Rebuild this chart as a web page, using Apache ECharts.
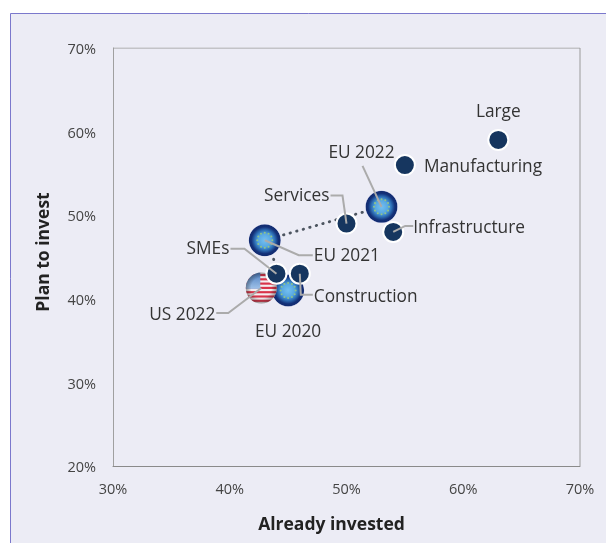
<!DOCTYPE html>
<html><head><meta charset="utf-8">
<style>html,body{margin:0;padding:0;background:#fff}#c{width:606px;height:543px}</style>
<script src="https://cdn.jsdelivr.net/npm/echarts@6/dist/echarts.min.js"></script>
</head><body><div id="c"></div>
<script>
const segmentNames = ['Large','Manufacturing','Infrastructure','Services','SMEs','Construction'];
const segmentX = [63,55,54,50,44,46];
const segmentY = [59,56,48,49,43,43];
const euNames = ['EU 2020','EU 2021','EU 2022'];
const euX = [45,43,53];
const euY = [41,47,51];
const usNames = ['US 2022'];
const usX = [42.7];
const usY = [41.3];
const xTicks = [30,40,50,60,70];
const yTicks = [20,30,40,50,60,70];

// pixel styling of labels: anchor offset from the point, and leader path relative to the point
const labelStyle = {
  'Large':{dx:0,dy:-28,align:'center'},
  'Manufacturing':{dx:19,dy:2,align:'left'},
  'Infrastructure':{dx:20,dy:-4,align:'left',path:[[0,0],[12,-6],[20,-6]]},
  'Services':{dx:-17,dy:-27,align:'right',path:[[0,0],[-4,-28],[-16,-28]]},
  'SMEs':{dx:-47,dy:-25,align:'right',path:[[0,0],[-32,-25],[-46,-25]]},
  'Construction':{dx:14,dy:23,align:'left',path:[[0,0],[1,21],[13,21]]},
  'EU 2020':{dx:0,dy:42,align:'center'},
  'EU 2021':{dx:49,dy:16,align:'left',path:[[0,0],[34,15],[48,15]]},
  'EU 2022':{dx:-20,dy:-54,align:'center',path:[[0,0],[-19,-41]]},
  'US 2022':{dx:-46,dy:27,align:'right',path:[[0,0],[-33,25],[-45,25]]}
};

function euSvg(){
  let s='';
  for(let i=0;i<12;i++){const a=i*Math.PI/6;
    s+=`<circle cx="${(32+14.5*Math.cos(a)).toFixed(1)}" cy="${(32+14.5*Math.sin(a)).toFixed(1)}" r="2" fill="#8fc48a"/>`;}
  return 'image://data:image/svg+xml;charset=utf-8,'+encodeURIComponent(
  `<svg xmlns="http://www.w3.org/2000/svg" width="64" height="64" viewBox="0 0 64 64"><defs><radialGradient id="g" cx="50%" cy="50%" r="50%"><stop offset="0" stop-color="#74c0f0"/><stop offset="0.4" stop-color="#58a8e2"/><stop offset="0.62" stop-color="#2f72b8"/><stop offset="0.84" stop-color="#133078"/><stop offset="0.96" stop-color="#122c70"/><stop offset="1" stop-color="#6a78b0"/></radialGradient></defs><circle cx="32" cy="32" r="31" fill="url(#g)"/>${s}</svg>`);
}
function usSvg(){
  let st='';
  for(let i=0;i<7;i++){st+=`<rect x="0" y="${(4+i*8.6).toFixed(1)}" width="64" height="4.3" fill="#d8344a"/>`;}
  return 'image://data:image/svg+xml;charset=utf-8,'+encodeURIComponent(
  `<svg xmlns="http://www.w3.org/2000/svg" width="64" height="64" viewBox="0 0 64 64"><defs><clipPath id="c"><circle cx="32" cy="32" r="31"/></clipPath><radialGradient id="s" cx="50%" cy="50%" r="50%"><stop offset="0.65" stop-color="#000" stop-opacity="0"/><stop offset="1" stop-color="#222" stop-opacity="0.4"/></radialGradient><linearGradient id="b" x1="0" y1="0" x2="0" y2="1"><stop offset="0" stop-color="#4a7cc0"/><stop offset="1" stop-color="#a0c2e8"/></linearGradient></defs><g clip-path="url(#c)"><rect width="64" height="64" fill="#f4eef0"/>${st}<rect width="30" height="34" fill="url(#b)"/></g><circle cx="32" cy="32" r="31" fill="url(#s)"/></svg>`);
}
const FONT='"Open Sans"';
const zipPts=(n,x,y)=>n.map((name,i)=>({name,value:[x[i],y[i]]}));
const allPts=[...zipPts(euNames,euX,euY),...zipPts(usNames,usX,usY),...zipPts(segmentNames,segmentX,segmentY)];
const pct=v=>v+'%';
const chart=echarts.init(document.getElementById('c'),null,{renderer:'canvas'});
chart.setOption({
  animation:false,
  backgroundColor:'#fff',
  graphic:[{type:'rect',z:-10,silent:true,shape:{x:10.5,y:13.5,width:620,height:560},style:{fill:'#ECECF5',stroke:'#7B78CC',lineWidth:1}}],
  grid:{left:113,top:48,width:467,height:418,show:false},
  xAxis:{type:'value',min:30,max:70,interval:10,name:'Already invested',nameLocation:'middle',nameGap:50,
    nameTextStyle:{fontFamily:FONT,fontWeight:'bold',fontSize:17.5,color:'#222',padding:[0,30,0,0]},
    axisLine:{show:true,onZero:false,lineStyle:{color:'#8a8a8a'}},axisTick:{show:false},splitLine:{show:false},
    axisLabel:{formatter:pct,fontFamily:FONT,fontSize:14.5,color:'#444',margin:16,customValues:xTicks,showMinLabel:true,showMaxLabel:true}},
  yAxis:{type:'value',min:20,max:70,interval:10,name:'Plan to invest',nameLocation:'middle',nameGap:60,
    nameTextStyle:{fontFamily:FONT,fontWeight:'bold',fontSize:17.5,color:'#222',padding:[0,0,0,10]},
    axisLine:{show:true,onZero:false,lineStyle:{color:'#a0a0a0'}},axisTick:{show:false},splitLine:{show:false},
    axisLabel:{formatter:v=>'{a|'+v+'%}',margin:17,customValues:yTicks,
      rich:{a:{fontFamily:FONT,fontSize:14.5,color:'#444',padding:[4,0,0,0]}}}},
  series:[
    {type:'line',silent:true,symbol:'none',data:[[30,70],[70,70],[70,20]],lineStyle:{color:'#9a9a9a',width:1},z:1},
    {type:'line',name:'EU trend',silent:true,symbol:'none',data:euNames.map((n,i)=>[euX[i],euY[i]]),
      lineStyle:{color:'#4d5560',width:2.8,type:[0.5,6.3],cap:'round'},z:2},
    {type:'scatter',name:'EU',symbol:euSvg(),symbolSize:33,data:zipPts(euNames,euX,euY),z:3,silent:true,itemStyle:{opacity:1}},
    {type:'scatter',name:'US',symbol:usSvg(),symbolSize:32,data:zipPts(usNames,usX,usY),z:3,silent:true,itemStyle:{opacity:1}},
    {type:'scatter',name:'Segments',symbol:'circle',symbolSize:20,data:zipPts(segmentNames,segmentX,segmentY),
      itemStyle:{color:'#16365F',borderColor:'#fff',borderWidth:2,opacity:1},z:4,silent:true},
    {type:'custom',name:'Labels',silent:true,z:5,clip:false,coordinateSystem:'cartesian2d',
      data:allPts.map(p=>({name:p.name,value:p.value})),
      encode:{x:0,y:1},
      renderItem(params,api){
        const name=allPts[params.dataIndex].name;
        const c=api.coord([api.value(0),api.value(1)]);
        const l=labelStyle[name];
        const children=[];
        if(l.path){children.push({type:'polyline',shape:{points:l.path.map(p=>[c[0]+p[0],c[1]+p[1]])},
          style:{fill:null,stroke:'#ababab',lineWidth:2}});}
        children.push({type:'text',style:{text:name,x:c[0]+l.dx,y:c[1]+l.dy,align:l.align,verticalAlign:'middle',
          font:'17.3px '+FONT,fill:'#333'}});
        return {type:'group',children};
      }}
  ]
});
</script></body></html>
